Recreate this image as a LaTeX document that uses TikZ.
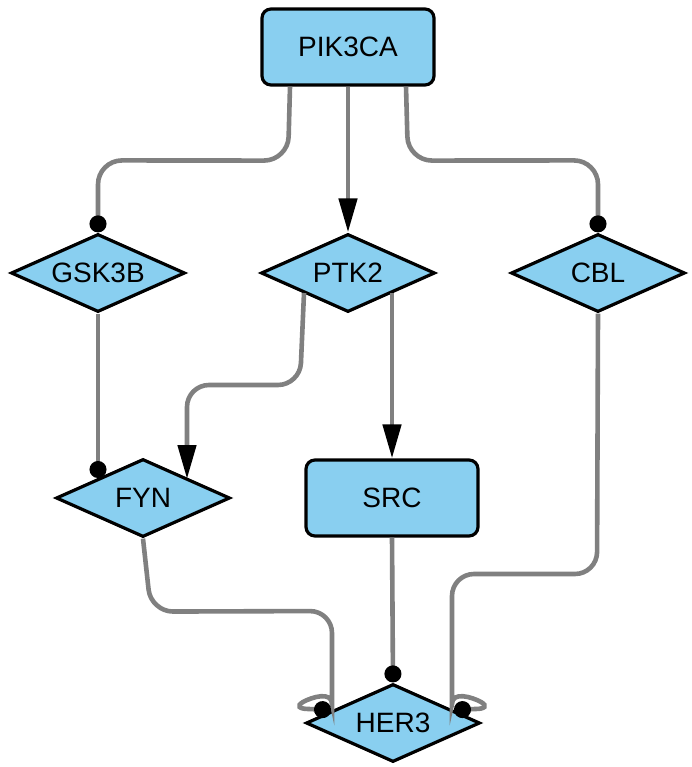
\documentclass[tikz,border=0pt]{standalone}
\usepackage{fontspec}
\setmainfont{Liberation Sans}
\usetikzlibrary{shapes.geometric,arrows.meta,calc}
\definecolor{nodefill}{RGB}{137,207,240}
\definecolor{edgegray}{RGB}{128,128,128}
\begin{document}
\begin{tikzpicture}[x=1pt,y=-1pt,
  every node/.style={font=\fontsize{28}{30}\selectfont},
  boxnode/.style={draw=black, line width=3.2pt, fill=nodefill, rounded corners=9pt,
    minimum width=172pt, minimum height=76pt, inner sep=0pt},
  dianode/.style={draw=black, line width=3.2pt, fill=nodefill, diamond, aspect=2.2,
    minimum width=174pt, minimum height=78pt, inner sep=0pt},
  edge/.style={draw=edgegray, line width=4.6pt},
  act/.style={edge, -{Triangle[length=34pt,width=18pt,color=black,fill=black]}},
  inh/.style={edge, -{Circle[length=17pt,color=black,fill=black]}},
]
\useasboundingbox (0,0) rectangle (692,767);

\node[boxnode] (pik) at (348,47) {PIK3CA};
\node[dianode] (gsk) at (98,273) {GSK3B};
\node[dianode] (ptk) at (348,273) {PTK2};
\node[dianode] (cbl) at (598,273) {CBL};
\node[dianode] (fyn) at (143,498) {FYN};
\node[boxnode] (src) at (392,498) {SRC};
\node[dianode] (her) at (393,723) {HER3};

% PIK3CA -> GSK3B
\draw[inh, rounded corners=24pt] ($(pik.south)+(-58,0)$) -- ($(pik.south)+(-60,74)$) -- ($(gsk.north)+(0,-72)$) -- (gsk.north);
% PIK3CA -> PTK2
\draw[act] (pik.south) -- (ptk.north);
% PIK3CA -> CBL
\draw[inh, rounded corners=24pt] ($(pik.south)+(58,0)$) -- ($(pik.south)+(60,74)$) -- ($(cbl.north)+(0,-72)$) -- (cbl.north);
% GSK3B -> FYN
\draw[inh] (gsk.south) -- ($(fyn)+(-45,-20)$);
% PTK2 -> FYN
\draw[act, rounded corners=22pt] ($(ptk)+(-44,20)$) -- ($(ptk)+(-48,112)$) -- ($(fyn)+(44,-113)$) -- ($(fyn)+(44,-19)$);
% PTK2 -> SRC
\draw[act] ($(ptk)+(44,20)$) -- (src.north);
% SRC -> HER3
\draw[inh] (src.south) -- (her.north);
% FYN -> HER3
\draw[inh] (fyn.south) [rounded corners=22pt] -- ($(fyn.south)+(8,73)$) -- (332,611) -- (332,682) [sharp corners]
  .. controls (332,691) and (312,697) .. (303,702)
  .. controls (296,706) and (299,709) .. (309,709) -- ($(her)+(-62,-13)$);
% CBL -> HER3
\draw[inh] (cbl.south) [rounded corners=22pt] -- (597,574) -- (452,574) -- (452,682) [sharp corners]
  .. controls (452,691) and (472,697) .. (481,702)
  .. controls (488,706) and (485,709) .. (475,709) -- ($(her)+(61,-13)$);
\end{tikzpicture}
\end{document}
